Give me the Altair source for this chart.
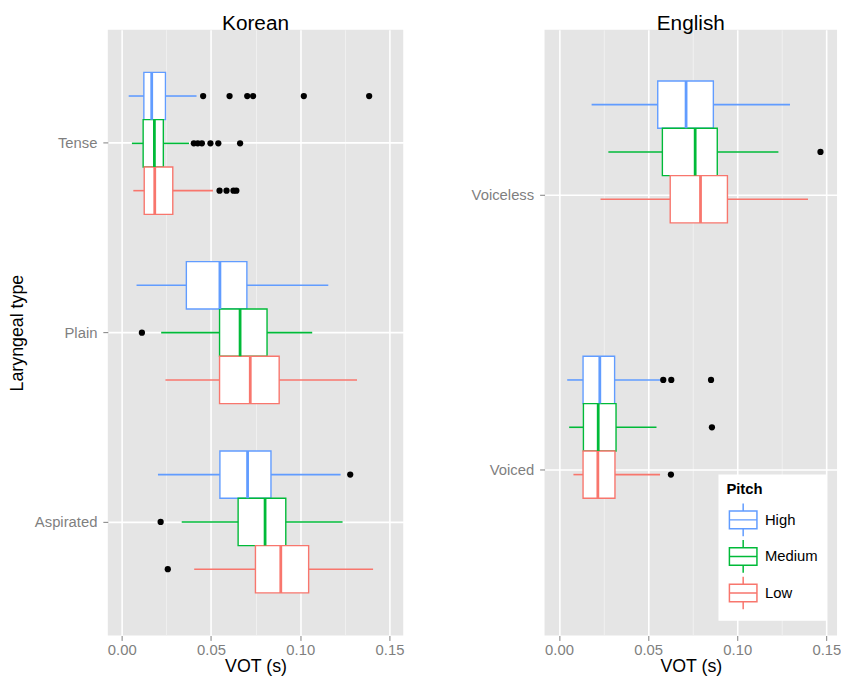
import altair as alt
import pandas as pd

FONT = "Liberation Sans"

pitch_levels = ["High", "Medium", "Low"]
pitch_colors = ["#619CFF", "#00BA38", "#F8766D"]
x_ticks = [0.0, 0.025, 0.05, 0.075, 0.10, 0.125, 0.15]

# ---------------- Korean ----------------
kor_types = ["Tense", "Plain", "Aspirated"]
kor_type_col = ["Tense"] * 3 + ["Plain"] * 3 + ["Aspirated"] * 3
kor_pitch_col = pitch_levels * 3
kor_lo = [0.0039, 0.0057, 0.0065, 0.0083, 0.0221, 0.0245, 0.0203, 0.0336, 0.0406]
kor_q1 = [0.0124, 0.0120, 0.0126, 0.0362, 0.0548, 0.0548, 0.0550, 0.0652, 0.0749]
kor_med = [0.0168, 0.0183, 0.0185, 0.0550, 0.0663, 0.0720, 0.0705, 0.0803, 0.0891]
kor_q3 = [0.0245, 0.0233, 0.0286, 0.0701, 0.0814, 0.0882, 0.0836, 0.0919, 0.1047]
kor_hi = [0.0419, 0.0377, 0.0511, 0.1157, 0.1067, 0.1318, 0.1226, 0.1237, 0.1408]

kor_out_type = ["Tense"] * 6 + ["Tense"] * 6 + ["Tense"] * 4 + ["Plain", "Aspirated", "Aspirated", "Aspirated"]
kor_out_pitch = ["High"] * 6 + ["Medium"] * 6 + ["Low"] * 4 + ["Medium", "High", "Medium", "Low"]
kor_out_val = [0.0456, 0.0604, 0.0703, 0.0736, 0.1020, 0.1386,
               0.0404, 0.0426, 0.0449, 0.0497, 0.0541, 0.0663,
               0.0548, 0.0587, 0.0626, 0.0642,
               0.0113, 0.1280, 0.0218, 0.0258]

# ---------------- English ----------------
eng_types = ["Voiceless", "Voiced"]
eng_type_col = ["Voiceless"] * 3 + ["Voiced"] * 3
eng_pitch_col = pitch_levels * 2
eng_lo = [0.0183, 0.0277, 0.0233, 0.0046, 0.0057, 0.0081]
eng_q1 = [0.0554, 0.0580, 0.0624, 0.0135, 0.0137, 0.0135]
eng_med = [0.0713, 0.0764, 0.0794, 0.0229, 0.0220, 0.0218]
eng_q3 = [0.0866, 0.0888, 0.0945, 0.0312, 0.0320, 0.0314]
eng_hi = [0.1296, 0.1231, 0.1397, 0.0576, 0.0547, 0.0567]

eng_out_type = ["Voiceless", "Voiced", "Voiced", "Voiced", "Voiced", "Voiced"]
eng_out_pitch = ["Medium", "High", "High", "High", "Medium", "Low"]
eng_out_val = [0.1467, 0.0585, 0.0630, 0.0853, 0.0858, 0.0628]

kor_summary = pd.DataFrame({"type": kor_type_col, "pitch": kor_pitch_col, "lo": kor_lo,
                            "q1": kor_q1, "med": kor_med, "q3": kor_q3, "hi": kor_hi})
kor_outliers = pd.DataFrame({"type": kor_out_type, "pitch": kor_out_pitch, "v": kor_out_val})
eng_summary = pd.DataFrame({"type": eng_type_col, "pitch": eng_pitch_col, "lo": eng_lo,
                            "q1": eng_q1, "med": eng_med, "q3": eng_q3, "hi": eng_hi})
eng_outliers = pd.DataFrame({"type": eng_out_type, "pitch": eng_out_pitch, "v": eng_out_val})

MAJOR = "abs(datum.value/0.05 - round(datum.value/0.05)) < 0.001"
box_symbol = "M-0.86,-0.55H0.86V0.55H-0.86Z M-0.86,0H0.86 M0,-1.02V-0.55 M0,0.55V1.02"


def panel(summary, outliers, types, title, domain, width, ytitle, legend):
    cscale = alt.Scale(domain=pitch_levels, range=pitch_colors)
    yaxis = alt.Axis(
        title=ytitle, bandPosition=0.5, grid=True, gridColor="white", gridWidth=1.6,
        domain=False, tickColor="#7F7F7F", tickSize=5, labelPadding=6,
        labelColor="#7F7F7F", labelFontSize=15, titleFontSize=18,
        titleFontWeight="normal", titleColor="black", titlePadding=8,
        labelFont=FONT, titleFont=FONT, zindex=0,
    )
    y = alt.Y("type:N", sort=types,
              scale=alt.Scale(paddingInner=0, paddingOuter=0.1), axis=yaxis)
    yoff = alt.YOffset("pitch:N", sort=pitch_levels,
                       scale=alt.Scale(paddingInner=0, paddingOuter=0.5))
    xaxis = alt.Axis(
        title="VOT (s)", values=x_ticks, grid=True, domain=False,
        gridColor={"condition": {"test": MAJOR, "value": "white"}, "value": "#F2F2F2"},
        gridWidth={"condition": {"test": MAJOR, "value": 1.6}, "value": 0.9},
        tickColor={"condition": {"test": MAJOR, "value": "#7F7F7F"}, "value": "transparent"},
        tickSize=5, labelPadding=2,
        labelExpr=f"{MAJOR} ? format(datum.value, '.2f') : ''",
        labelColor="#7F7F7F", labelFontSize=15, titleFontSize=18, titleFontWeight="normal",
        titleColor="black", titlePadding=0, labelFont=FONT, titleFont=FONT, zindex=0,
    )
    xscale = alt.Scale(domain=domain, nice=False, zero=False)

    def stroke():
        return alt.Stroke("pitch:N", scale=cscale, legend=legend)

    base = alt.Chart(summary)
    box = base.mark_rect(fill="white", strokeWidth=1.4).encode(
        x=alt.X("q1:Q", scale=xscale, axis=xaxis), x2="q3:Q", y=y, yOffset=yoff,
        stroke=stroke(),
    )
    whisk_lo = base.mark_rule(strokeWidth=1.6).encode(
        x=alt.X("lo:Q"), x2="q1:Q", y=y, yOffset=yoff, stroke=stroke(),
    )
    whisk_hi = base.mark_rule(strokeWidth=1.6).encode(
        x=alt.X("q3:Q"), x2="hi:Q", y=y, yOffset=yoff, stroke=stroke(),
    )
    med = base.mark_rect(filled=False, strokeWidth=2.8).encode(
        x=alt.X("med:Q"), x2="med:Q", y=y, yOffset=yoff, stroke=stroke(),
    )
    pts = alt.Chart(outliers).mark_circle(size=40, color="black", opacity=1).encode(
        x=alt.X("v:Q"), y=y, yOffset=yoff,
    )
    return alt.layer(box, whisk_lo, whisk_hi, med, pts).properties(
        width=width, height=613,
        title=alt.TitleParams(title, fontSize=21, font=FONT, fontWeight="normal",
                              color="black", anchor="middle", offset=-4),
    )


legend = alt.Legend(
    title="Pitch", orient="none", legendX=176, legendY=450, fillColor="white", padding=8,
    titleFontSize=15, titleFontWeight="bold", titleColor="black", titleFont=FONT,
    labelFontSize=15, labelColor="black", labelFont=FONT, labelOffset=5,
    symbolType=box_symbol, symbolSize=1050, symbolStrokeWidth=1.5,
    symbolFillColor="white", rowPadding=-8, titlePadding=6,
)

korean = panel(kor_summary, kor_outliers, kor_types, "Korean", [-0.0078, 0.1577], 299,
               "Laryngeal type", None)
english = panel(eng_summary, eng_outliers, eng_types, "English", [-0.0081, 0.1560], 296,
                None, legend)

chart = alt.hconcat(korean, english, spacing=67).resolve_scale(
    stroke="independent"
).resolve_legend(stroke="independent").properties(
    padding={"top": 1, "left": 0, "right": 0, "bottom": 0}
).configure(
    background="white"
).configure_view(
    fill="#E5E5E5", stroke=None
)

chart.save("out.html", embed_options={"renderer": "svg", "actions": False})
